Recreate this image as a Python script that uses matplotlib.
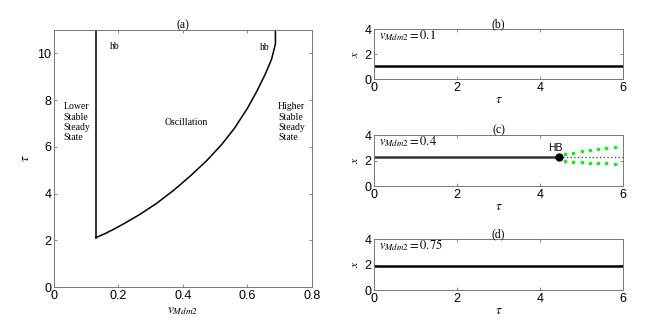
import matplotlib
matplotlib.use("Agg")
import matplotlib.pyplot as plt

plt.rcParams['font.family'] = ['Liberation Sans', 'DejaVu Sans']
plt.rcParams['mathtext.fontset'] = 'stix'
plt.rcParams['font.size'] = 9

# panel (a): boundary of oscillation region
left_v = [0.13, 0.13]
left_tau = [11.0, 2.12]
curve_v = [0.13, 0.16, 0.19, 0.215, 0.265, 0.318, 0.37, 0.42, 0.473, 0.52, 0.56,
           0.6, 0.63, 0.655, 0.675, 0.687, 0.687]
curve_tau = [2.12, 2.3, 2.51, 2.7, 3.1, 3.58, 4.13, 4.72, 5.4, 6.1, 6.8,
             7.65, 8.4, 9.1, 9.75, 10.4, 11.0]

# panels (b)-(d)
tau_line = [0, 6]
x_b = 1.05
x_c = 2.27
x_d = 1.91
hb_tau = 4.45
osc_tau = [4.6, 4.8, 5.0, 5.2, 5.4, 5.6, 5.8]
osc_max = [2.51, 2.61, 2.72, 2.80, 2.88, 2.95, 3.06]
osc_min = [1.99, 1.91, 1.86, 1.83, 1.80, 1.78, 1.73]

fig = plt.figure(figsize=(6.51, 3.27), dpi=100)

def style(ax):
    for s in ax.spines.values():
        s.set_color('#777777')
        s.set_linewidth(0.7)
    ax.tick_params(direction='in', top=True, right=True, length=2.5,
                   width=0.6, color='#777777', pad=2, labelsize=9)

serif = 'Liberation Serif'

ax = fig.add_axes([0.083, 0.122, 0.396, 0.786])
ax.plot(left_v, left_tau, color='#222222', lw=1.3)
ax.plot(curve_v, curve_tau, color='black', lw=1.1)
ax.set_xlim(0, 0.8)
ax.set_ylim(0, 11)
ax.set_xticks([0, 0.2, 0.4, 0.6, 0.8])
ax.set_xticklabels(['0', '0.2', '0.4', '0.6', '0.8'])
ax.set_yticks([0, 2, 4, 6, 8, 10])
ax.set_title('(a)', family=serif, fontsize=8.5, pad=1)
ax.set_xlabel(r'$v_{Mdm2}$', fontsize=9.5, labelpad=2)
ax.set_ylabel(r'$\tau$', fontsize=9.5, labelpad=4)
ax.text(0.19, 10.3, 'hb', family=serif, fontsize=7, ha='center', va='center')
ax.text(0.653, 10.25, 'hb', family=serif, fontsize=7, ha='center', va='center')
ax.text(0.07, 7.05, 'Lower\nStable\nSteady\nState', family=serif, fontsize=7,
        ha='center', va='center', linespacing=1.2, multialignment='left')
ax.text(0.41, 7.05, 'Oscillation', family=serif, fontsize=7, ha='center', va='center')
ax.text(0.737, 7.05, 'Higher\nStable\nSteady\nState', family=serif, fontsize=7,
        ha='center', va='center', linespacing=1.2, multialignment='left')
style(ax)

panels = [
    ([0.5745, 0.758, 0.3825, 0.153], '(b)', x_b, '0.1'),
    ([0.5745, 0.431, 0.3825, 0.156], '(c)', x_c, '0.4'),
    ([0.5745, 0.113, 0.3825, 0.156], '(d)', x_d, '0.75'),
]
for pos, title, xval, vlab in panels:
    a = fig.add_axes(pos)
    if title == '(c)':
        a.plot([0, hb_tau], [xval, xval], color='#333333', lw=1.8, zorder=2)
        a.plot([hb_tau, 6], [xval, xval], color='#555555', lw=1.0, ls=':', zorder=2)
        a.scatter(osc_tau, osc_max, s=7, color='#11ee11', zorder=3, lw=0)
        a.scatter(osc_tau, osc_min, s=7, color='#11ee11', zorder=3, lw=0)
        a.plot([hb_tau], [xval], 'o', color='black', ms=5, zorder=4)
        a.text(hb_tau - 0.08, xval + 0.35, 'HB', ha='center', va='bottom', fontsize=7.5)
    else:
        a.plot(tau_line, [xval, xval], color='black', lw=1.8)
    a.set_xlim(0, 6)
    a.set_ylim(0, 4)
    a.set_xticks([0, 2, 4, 6])
    a.set_yticks([0, 2, 4])
    a.set_title(title, family=serif, fontsize=8.5, pad=1)
    a.set_xlabel(r'$\tau$', fontsize=9.5, labelpad=0)
    a.set_ylabel(r'$x$', fontsize=8.5, labelpad=2)
    a.text(0.12, 3.5, r'$v_{Mdm2}=%s$' % vlab, fontsize=9, ha='left', va='center')
    style(a)

fig.savefig('out.png', dpi=100)
